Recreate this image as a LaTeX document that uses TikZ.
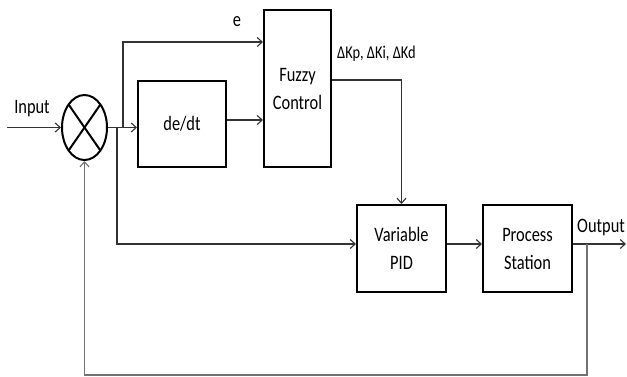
\documentclass[tikz,border=0pt]{standalone}
\usepackage{fontspec}
\setmainfont{Carlito}[FakeStretch=0.8]
\usetikzlibrary{shapes.geometric,arrows.meta,calc}
\begin{document}
\begin{tikzpicture}[x=1pt,y=-1pt,
  blockbox/.style={draw=black,line width=2pt,minimum width=88pt,minimum height=87pt,inner sep=0pt,align=center,font=\fontsize{20.5}{28}\selectfont},
  conn/.style={draw=black!80,line width=1.1pt,-{Straight Barb[length=5pt,width=9pt,line width=1.1pt]}},
  fb/.style={draw=black!55,line width=1.3pt,-{Straight Barb[length=5pt,width=9pt,line width=1.1pt]}},
  lbl/.style={inner sep=0pt,font=\fontsize{20.5}{24}\selectfont}]
\useasboundingbox (0,0) rectangle (627,376);
\fill[white] (0,0) rectangle (627,376);
% blocks
\node[draw=black,line width=2pt,ellipse,minimum width=45pt,minimum height=65pt,inner sep=0pt] (sum) at (84.5,127.5) {};
\draw[line width=2pt] ($(sum.center)+(-15.9,-23)$) -- ($(sum.center)+(15.9,23)$);
\draw[line width=2pt] ($(sum.center)+(15.9,-23)$) -- ($(sum.center)+(-15.9,23)$);
\node[blockbox,minimum width=88pt,minimum height=86pt] (dedt) at (182,124) {de/dt};
\node[blockbox,minimum width=67pt,minimum height=157pt] (fuzzy) at (297.5,88.5) {Fuzzy\\Control};
\node[blockbox,minimum width=89pt] (pid) at (401.5,248.5) {Variable\\PID};
\node[blockbox,minimum width=89pt] (proc) at (527.5,248.5) {Process\\Station};
% labels
\node[lbl] (inlbl) at (32,109) {Input};
\node[lbl] (elbl) at (237,22) {e};
\node[lbl,anchor=west,font=\fontsize{18}{20}\selectfont] (klbl) at (337,54) {ΔKp, ΔKi, ΔKd};
\node[lbl,anchor=west] (outlbl) at (577,227) {Output};
% coordinates
\coordinate (in) at (7,127.5);
\coordinate (b1) at (123,127.5);
\coordinate (eTop) at (123,42);
\coordinate (b2) at (117,127.5);
\coordinate (b2d) at (117,244);
\coordinate (kTurn) at (401.5,80);
\coordinate (out) at (626,244);
\coordinate (fbTop) at (587,244);
\coordinate (fbR) at (587,375);
\coordinate (fbL) at (84.5,375);
% connectors
\draw[conn] (in) -- (sum.west);
\draw[conn] (sum.east) -- (sum.east -| dedt.west);
\draw[conn] (b1) -- (eTop) -- (eTop -| fuzzy.west);
\draw[conn] (dedt.east |- 0,120) -- (fuzzy.west |- 0,120);
\draw[conn] (fuzzy.east |- kTurn) -- (kTurn) -- (pid.north);
\draw[conn] (b2) -- (b2d) -- (b2d -| pid.west);
\draw[conn] (pid.east |- 0,244) -- (proc.west |- 0,244);
\draw[conn] (proc.east |- out) -- (out);
\draw[fb] (fbTop) -- (fbR) -- (fbL) -- (sum.south);
\end{tikzpicture}
\end{document}
